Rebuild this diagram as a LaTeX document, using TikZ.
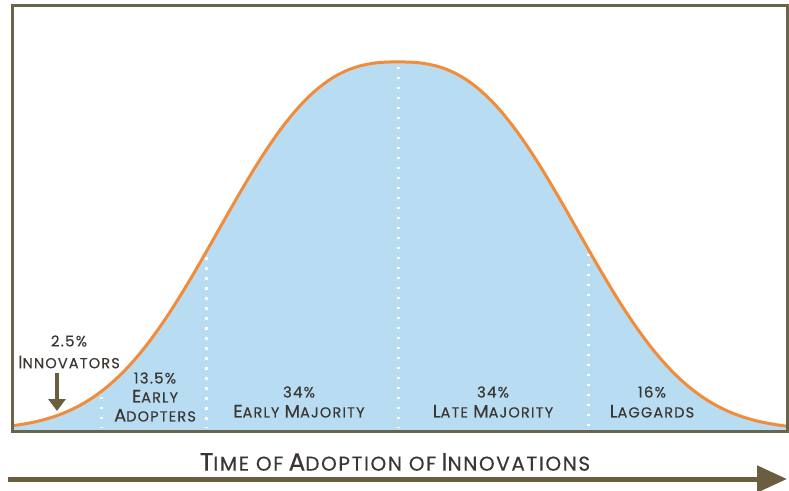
\documentclass[tikz,border=0pt]{standalone}
\usepackage{fontspec}
\setmainfont{Poppins}
\newfontfamily\labelfont{Poppins}[LetterSpace=8, FakeBold=0.3]
\usetikzlibrary{arrows.meta}
\usetikzlibrary{positioning}
\usepackage{xcolor}
\definecolor{frameolive}{HTML}{6A654A}
\definecolor{bellblue}{HTML}{B8DDF2}
\definecolor{bellorange}{HTML}{F28C3A}
\definecolor{textdark}{HTML}{3B3632}
\definecolor{arrowbrown}{HTML}{6B5E3E}
\newcommand{\capword}[2]{{\fontsize{18}{19}\selectfont #1}{\fontsize{14.5}{16}\selectfont #2}}
\newcommand{\titleword}[2]{{\fontsize{25}{27}\selectfont #1}{\fontsize{20}{22}\selectfont #2}}
\tikzset{
	lbl/.style={text=textdark, font=\labelfont\fontsize{15}{16}\selectfont, inner sep=0pt, align=center},
	divider/.style={white, line width=3pt, dash pattern=on 2.5pt off 7.5pt},
	declare function={bell(\t)=430-368*exp(-pow(abs(\t-398)/217+0.0001,2.6));}
}

\begin{document}
\begin{tikzpicture}[x=1pt, y=-1pt]
				\useasboundingbox (0,0) rectangle (789,490);
				\fill[white] (0,0) rectangle (789,490);
				\fill[bellblue] plot[domain=12:787, samples=160] (\x, {bell(\x)}) -- (787,430) -- (12,430) -- cycle;
				\foreach \dx in {101,206,398,588}
					\draw[divider] (\dx,{bell(\dx)+5}) -- (\dx,428);
				\draw[bellorange, line width=3pt] plot[domain=12:787, samples=160] (\x, {bell(\x)});
				\draw[frameolive, line width=3pt] (12,5) rectangle (787,431);
				\node[lbl] (innovpct) at (69,341) {2.5\%};
				\node[lbl] (innov) at (69,362) {\capword{I}{NNOVATORS}};
				\coordinate (innovtip) at (57,411);
				\draw[arrowbrown, line width=4pt, shorten <=4pt, -{Triangle[width=17pt,length=12pt]}] (innov.south -| innovtip) -- (innovtip);
				\node[lbl] (adopt) at (155,397) {13.5\%\\[3pt]\capword{E}{ARLY}\\[3pt]\capword{A}{DOPTERS}};
				\node[lbl] (earlymaj) at (299,402) {34\%\\[4pt]\capword{E}{ARLY} \capword{M}{AJORITY}};
				\node[lbl] (latemaj) at (493,402) {34\%\\[4pt]\capword{L}{ATE} \capword{M}{AJORITY}};
				\node[lbl] (lag) at (652,402) {16\%\\[4pt]\capword{L}{AGGARDS}};
				\coordinate (tstart) at (8,479);
				\coordinate (tend) at (787,479);
				\draw[arrowbrown, line width=5pt, -{Triangle[length=30pt,width=26pt]}] (tstart) -- (tend);
				\node[lbl] (timetitle) at (395,462) {\titleword{T}{IME OF} \titleword{A}{DOPTION OF} \titleword{I}{NNOVATIONS}};
\end{tikzpicture}
\end{document}
